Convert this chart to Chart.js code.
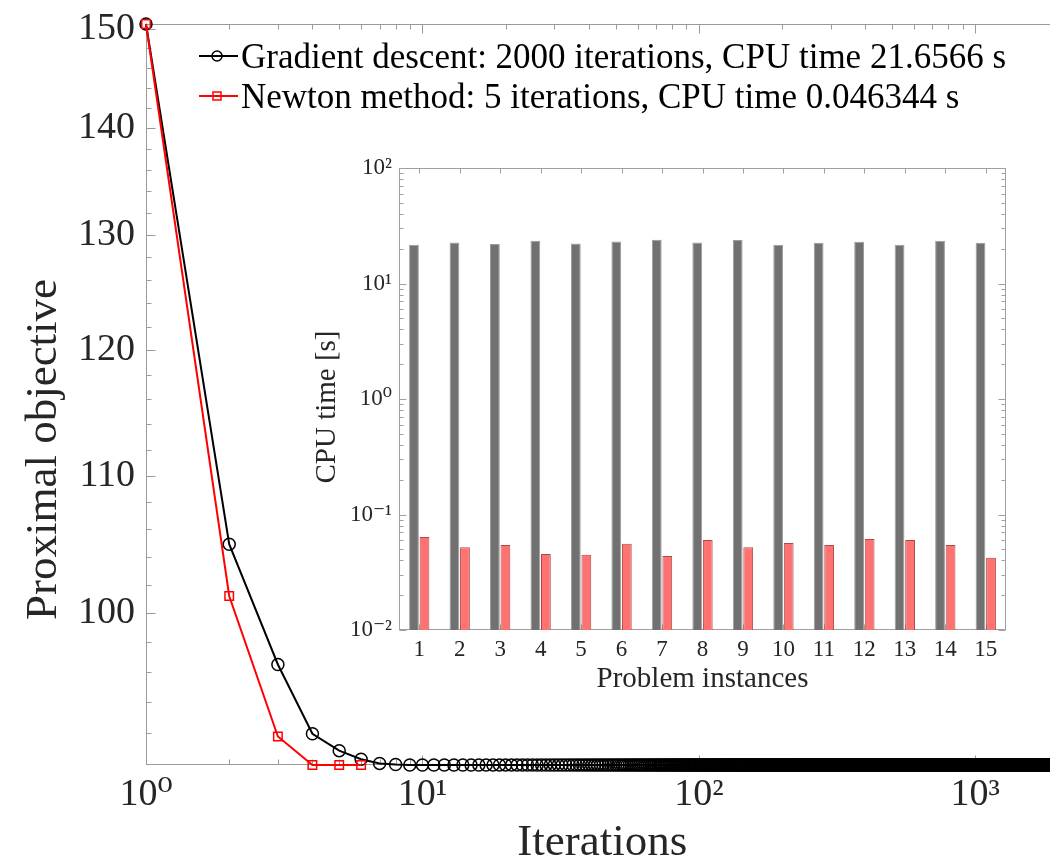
<!DOCTYPE html>
<html><head><meta charset="utf-8">
<script src="https://cdn.jsdelivr.net/npm/chart.js@4.4.1/dist/chart.umd.min.js"></script>
<style>
html,body{margin:0;padding:0;overflow:hidden;background:#fff;}
#wrap{position:relative;width:1050px;height:861px;overflow:hidden;background:#fff;}
#main{position:absolute;left:0;top:0;}
#inset{position:absolute;left:300px;top:140px;}
.leg{position:absolute;left:199px;height:40px;display:flex;align-items:center;font-family:'Liberation Serif',serif;font-size:35px;color:#000;white-space:nowrap;line-height:1;}
.leg svg{margin-right:3px;flex:none;}
</style></head><body>
<div id="wrap">
<canvas id="main" width="1066" height="861"></canvas>
<canvas id="inset" width="720" height="560"></canvas>
<div class="leg" style="top:36px"><svg width="39" height="20"><line x1="0" y1="10" x2="39" y2="10" stroke="#000" stroke-width="2"/><circle cx="18" cy="10" r="5" fill="none" stroke="#000" stroke-width="1.5"/></svg><span>Gradient descent: 2000 iterations, CPU time 21.6566 s</span></div>
<div class="leg" style="top:76px"><svg width="39" height="20"><line x1="0" y1="10" x2="39" y2="10" stroke="#ff0000" stroke-width="2"/><rect x="14" y="6" width="8" height="8" fill="none" stroke="#ff0000" stroke-width="1.5"/></svg><span>Newton method: 5 iterations, CPU time 0.046344 s</span></div>
</div>
<script>
// ---------- data ----------
const gdIterations = 2000;
const gdObjectiveHead = [150.5, 104.9, 96.5, 91.97, 90.9, 90.36, 90.1, 90.03];
const gdObjectiveFinal = 90.0;
const newtonObjective = [150.5, 101.2, 91.8, 90.0, 90.0, 90.0];
const xMajorTicks = [1, 10, 100, 1000];
const yMajorTicks = [100, 110, 120, 130, 140, 150];

const instances = ['1','2','3','4','5','6','7','8','9','10','11','12','13','14','15'];
const gdCpuTimes = [21.66, 22.6, 22.0, 23.5, 22.2, 23.1, 23.9, 22.7, 23.8, 21.7, 22.5, 23.0, 21.7, 23.5, 22.5];
const newtonCpuTimes = [0.0638, 0.0520, 0.0545, 0.0455, 0.0449, 0.0559, 0.0437, 0.0601, 0.0520, 0.0567, 0.0545, 0.0614, 0.0601, 0.0545, 0.0423];
const insetMajorTicks = [0.01, 0.1, 1, 10, 100];

// ---------- helpers ----------
const FONT = "'Liberation Serif', 'DejaVu Serif', serif";
Chart.defaults.font.family = FONT;
const SUP = {'0':'⁰','1':'¹','2':'²','3':'³','4':'⁴','5':'⁵','6':'⁶','7':'⁷','8':'⁸','9':'⁹','-':'⁻'};
function pow10Label(v){ const e = String(Math.round(Math.log10(v))); return '10' + e.split('').map(c=>SUP[c]).join(''); }
function isPow10(v){ const l = Math.log10(v); return Math.abs(l - Math.round(l)) < 1e-9; }
function logMinorTicks(lo, hi){ const out=[]; for(let d=Math.floor(Math.log10(lo)); d<=Math.ceil(Math.log10(hi)); d++){ for(let m=1;m<=9;m++){ const v=Number((m*Math.pow(10,d)).toPrecision(4)); if(v>=lo-1e-12 && v<=hi+1e-9) out.push(v);} } return out; }

const gdPoints = [];
for (let i = 1; i <= gdIterations; i++) gdPoints.push({x: i, y: i <= gdObjectiveHead.length ? gdObjectiveHead[i-1] : gdObjectiveFinal});
const newtonPoints = newtonObjective.map((v, i) => ({x: i + 1, y: v}));

const xTickValues = logMinorTicks(1, 2000);
const yTickValues = []; for (let v = 92; v <= 150; v += 2) yTickValues.push(v);
const insetTickValues = logMinorTicks(0.01, 100);

// box + inward tick marks
const axisBox = {
  id: 'axisBox',
  beforeDatasetsDraw(chart, args, o) {
    const {ctx, chartArea: a} = chart;
    const L = Math.round(a.left) + 0.5, R = Math.round(a.right) - 0.5, T = Math.round(a.top) + 0.5, B = Math.round(a.bottom) - 0.5;
    ctx.save();
    ctx.strokeStyle = o.color; ctx.lineWidth = 1;
    ctx.strokeRect(L, T, R - L, B - T);
    ctx.beginPath();
    const xs = chart.scales.x, ys = chart.scales.y;
    xs.ticks.forEach((t, i) => {
      const p = Math.round(xs.getPixelForTick(i)) + 0.5;
      const len = (t.label !== '' && t.label !== undefined) ? o.xMajor : o.xMinor;
      ctx.moveTo(p, B); ctx.lineTo(p, B - len);
      ctx.moveTo(p, T); ctx.lineTo(p, T + len);
    });
    ys.ticks.forEach((t, i) => {
      const p = Math.round(ys.getPixelForTick(i)) + 0.5;
      const len = (t.label !== '' && t.label !== undefined) ? o.yMajor : o.yMinor;
      ctx.moveTo(L, p); ctx.lineTo(L + len, p);
      if (o.mirrorY) { ctx.moveTo(R, p); ctx.lineTo(R - len, p); }
    });
    ctx.stroke();
    ctx.restore();
  }
};
// shift y title along the axis
const titleShift = {
  id: 'titleShift',
  afterLayout(chart, args, o) {
    const s = chart.scales.y;
    if (!s || s._shifted) return;
    const orig = s.drawTitle.bind(s);
    s.drawTitle = function(){ const c = this.ctx; c.save(); c.translate(0, o.dy || 0); orig(); c.restore(); };
    s._shifted = true;
  }
};

// ---------- main chart ----------
new Chart(document.getElementById('main'), {
  type: 'line',
  data: { datasets: [
    { label: 'Gradient descent', data: gdPoints, borderColor: '#000', borderWidth: 2, pointStyle: 'circle', pointRadius: 6, pointHoverRadius: 6,
      pointBorderWidth: 1.5, pointBorderColor: '#000', pointBackgroundColor: 'rgba(0,0,0,0)', tension: 0, clip: false, order: 1 },
    { label: 'Newton method', data: newtonPoints, borderColor: '#ff0000', borderWidth: 2, pointStyle: 'rect', pointRadius: 6, pointHoverRadius: 6,
      pointBorderWidth: 1.5, pointBorderColor: '#ff0000', pointBackgroundColor: 'rgba(0,0,0,0)', tension: 0, clip: false, order: 0 }
  ]},
  options: {
    responsive: false, animation: false, devicePixelRatio: 1, parsing: true,
    layout: { padding: { top: 24, right: 2, left: 0, bottom: 0 } },
    plugins: { legend: { display: false }, tooltip: { enabled: false },
      axisBox: { color: '#9a9a9a', xMajor: 9, xMinor: 5, yMajor: 9, yMinor: 5, mirrorY: false },
      titleShift: { dy: 55 } },
    scales: {
      x: { type: 'logarithmic', min: 1, max: 2000, bounds: 'data',
        afterBuildTicks: s => { s.ticks = xTickValues.map(v => ({value: v})); },
        ticks: { autoSkip: false, maxRotation: 0, minRotation: 0, padding: 11, color: '#262626',
          font: { family: FONT, size: 38, lineHeight: 1 },
          callback: v => xMajorTicks.includes(v) ? pow10Label(v) : '' },
        grid: { display: false, drawTicks: false }, border: { display: false },
        title: { display: true, text: 'Iterations', color: '#262626', font: { family: FONT, size: 45, lineHeight: 0.8 }, padding: { top: 0, bottom: 0 } },
        afterFit: s => { s.height = 96; s.paddingLeft = 0; s.paddingRight = 0; } },
      y: { type: 'logarithmic', min: 90, max: 150.5, bounds: 'data',
        afterBuildTicks: s => { s.ticks = yTickValues.map(v => ({value: v})); },
        ticks: { autoSkip: false, padding: 11, color: '#262626', font: { family: FONT, size: 38, lineHeight: 1 },
          callback: v => yMajorTicks.includes(v) ? String(v) : '' },
        grid: { display: false, drawTicks: false }, border: { display: false },
        title: { display: true, text: 'Proximal objective', color: '#262626', font: { family: FONT, size: 45, lineHeight: 1 }, padding: { top: 21.5, bottom: 0 } },
        afterFit: s => { s.width = 146; s.paddingTop = 0; s.paddingBottom = 0; } }
    }
  },
  plugins: [axisBox, titleShift]
});

// ---------- inset chart ----------
new Chart(document.getElementById('inset'), {
  type: 'bar',
  data: { labels: instances, datasets: [
    { label: 'Gradient descent', data: gdCpuTimes, backgroundColor: '#717171', borderColor: '#9c9c9c', borderWidth: 1, categoryPercentage: 0.52, barPercentage: 0.93 },
    { label: 'Newton method', data: newtonCpuTimes, backgroundColor: '#ff7272', borderColor: '#b04848', borderWidth: 1, categoryPercentage: 0.52, barPercentage: 0.93 }
  ]},
  options: {
    responsive: false, animation: false, devicePixelRatio: 1,
    layout: { padding: { top: 28, right: 14, left: 0, bottom: 0 } },
    plugins: { legend: { display: false }, tooltip: { enabled: false },
      axisBox: { color: '#a0a0a0', xMajor: 5, xMinor: 5, yMajor: 7, yMinor: 4, mirrorY: true },
      titleShift: { dy: 8 } },
    scales: {
      x: { ticks: { autoSkip: false, maxRotation: 0, padding: 8.5, color: '#262626', font: { family: FONT, size: 23, lineHeight: 1 } },
        grid: { display: false, drawTicks: false }, border: { display: false },
        title: { display: true, text: 'Problem instances', color: '#262626', font: { family: FONT, size: 29, lineHeight: 1 }, padding: { top: 0, bottom: 6.5 } },
        afterFit: s => { s.height = 70; s.paddingLeft = 0; s.paddingRight = 0; } },
      y: { type: 'logarithmic', min: 0.01, max: 100, bounds: 'data',
        afterBuildTicks: s => { s.ticks = insetTickValues.map(v => ({value: v})); },
        ticks: { autoSkip: false, padding: 7, color: '#262626', font: { family: FONT, size: 23, lineHeight: 1 },
          callback: v => (isPow10(v) && insetMajorTicks.some(m => Math.abs(m - v) < 1e-12)) ? pow10Label(v) : '' },
        grid: { display: false, drawTicks: false }, border: { display: false },
        title: { display: true, text: 'CPU time [s]', color: '#262626', font: { family: FONT, size: 29, lineHeight: 1 }, padding: { top: 12.5, bottom: 0 } },
        afterFit: s => { s.width = 99; s.paddingTop = 0; s.paddingBottom = 0; } }
    }
  },
  plugins: [axisBox, titleShift]
});
</script>
</body></html>
